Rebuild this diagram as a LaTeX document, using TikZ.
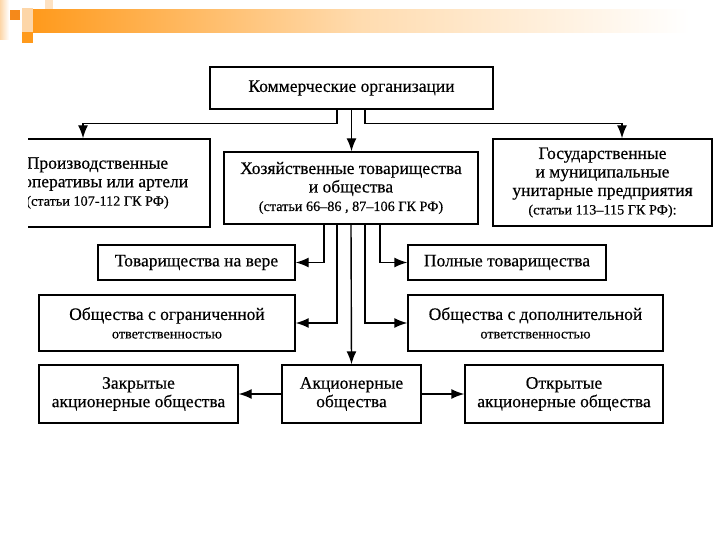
\documentclass[tikz,border=0pt]{standalone}
\usepackage{fontspec}
\setmainfont[FakeBold=0.4]{Liberation Serif}
\usetikzlibrary{shapes,arrows,arrows.meta,positioning,calc}

\definecolor{barorange}{HTML}{FF9A1C}
\definecolor{darkorange}{HTML}{F5891A}
\definecolor{paleorange}{HTML}{FDD6A8}

\newcommand{\smalltxt}{\fontsize{14.2}{16.5}\selectfont}

\begin{document}
\begin{tikzpicture}[
  x=1pt, y=-1pt,
  block/.style={rectangle, draw, line width=1.4pt, align=center, inner sep=2pt,
    font=\fontsize{17.5}{18.5}\selectfont},
  arrow/.style={->, >={Latex[length=13pt,width=10pt]}, line width=1.4pt}]
  \useasboundingbox (0,0) rectangle (720,540);
  % slide decoration
  \shade[left color=paleorange, right color=white] (0,0) rectangle (9,40);
  \fill[paleorange] (22,8) rectangle (33,32);
  \fill[paleorange!70] (45,0) rectangle (53,10);
  \shade[left color=barorange, right color=white, middle color=barorange!35]
    (33,10) rectangle (690,33);
  \fill[darkorange] (10,10) rectangle (20,20);
  \fill[barorange] (22,32) rectangle (33,43);

  \node[block, minimum width=283pt, minimum height=42pt] (com) at (351.5,88)
    {Коммерческие организации};
  \node[block, minimum width=254pt, minimum height=72pt] (hoz) at (351,188)
    {Хозяйственные товарищества\\и общества\\{\smalltxt (статьи 66–86 , 87–106 ГК РФ)}};
  \begin{scope}
    \clip (28,130) rectangle (240,240);
    \node[block, minimum width=225pt, minimum height=88pt] (proizv) at (97.5,183)
      {Производственные\\кооперативы или артели\\{\smalltxt(статьи 107-112 ГК РФ)}};
  \end{scope}
  \node[block, minimum width=219pt, minimum height=87pt] (gos) at (602.5,182.5)
    {Государственные\\и муниципальные\\унитарные предприятия\\{\smalltxt (статьи 113–115 ГК РФ):}};

  \node[block, minimum width=197pt, minimum height=35pt] (vere) at (196.5,262.5)
    {Товарищества на вере};
  \node[block, minimum width=198pt, minimum height=35pt] (polnye) at (507,262.5)
    {Полные товарищества};
  \node[block, minimum width=256pt, minimum height=56pt] (ogr) at (167,323)
    {Общества с ограниченной\\{\smalltxt ответственностью}};
  \node[block, minimum width=255pt, minimum height=56pt] (dop) at (535.5,323)
    {Общества с дополнительной\\{\smalltxt ответственностью}};

  \node[block, minimum width=139pt, minimum height=58pt] (akts) at (351.5,394)
    {Акционерные\\общества};
  \node[block, minimum width=199pt, minimum height=58pt] (zakr) at (138.5,394)
    {Закрытые\\акционерные общества};
  \node[block, minimum width=198pt, minimum height=58pt] (otkr) at (564,394)
    {Открытые\\акционерные общества};

  \draw[arrow] ([xshift=-14.5pt]com.south) -- ++(0,14) -| ([xshift=-14.5pt]proizv.north);
  \draw[arrow] (com.south) -- (com.south |- hoz.north);
  \draw[arrow] ([xshift=13.5pt]com.south) -- ++(0,14) -| ([xshift=19.5pt]gos.north);

  \draw[arrow] ([xshift=-27pt]hoz.south) |- (vere.east);
  \draw[arrow] ([xshift=-14pt]hoz.south) |- (ogr.east);
  \draw[arrow] (hoz.south) -- (akts.north);
  \draw[arrow] ([xshift=14pt]hoz.south) |- (dop.west);
  \draw[arrow] ([xshift=29pt]hoz.south) |- (polnye.west);

  \draw[arrow] (akts) -- (zakr);
  \draw[arrow] (akts) -- (otkr);
\end{tikzpicture}
\end{document}
